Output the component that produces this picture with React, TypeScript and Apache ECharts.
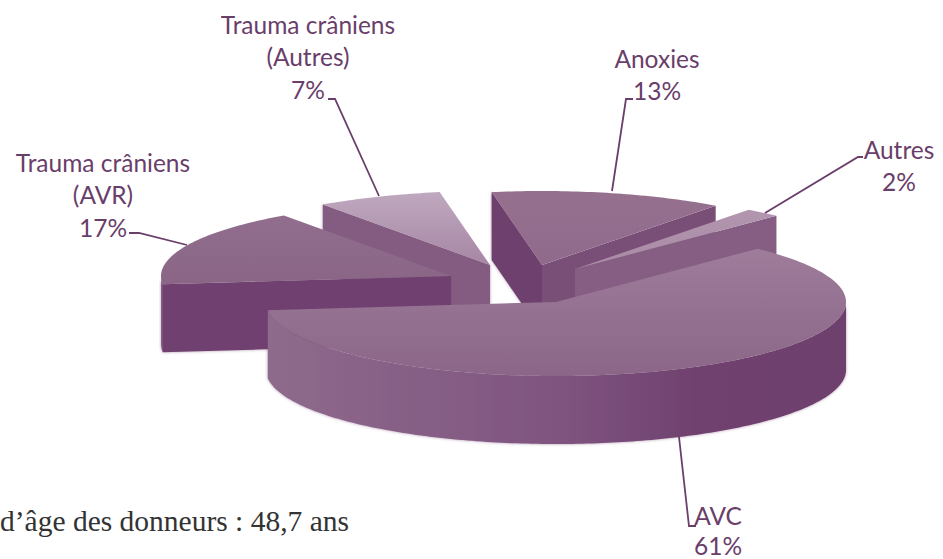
import React, { useEffect, useRef } from "react";
import * as echarts from "echarts";

const categories = ["AVC", "Trauma crâniens\n(AVR)", "Trauma crâniens\n(Autres)", "Anoxies", "Autres"];
const shares = [61, 17, 7, 13, 2];
const footnote = "d’âge des donneurs : 48,7 ans";

// Layout of the projected pie
const START_DEG = -46;
const RX = 290;
const RY = 74;
const DEPTH = 68;
const apexX = [556, 451, 490, 542, 575];
const apexY = [302, 276, 265, 265, 269];
const paintOrder = [5, 2, 1, 3, 4];

// Styles per slice
const topFrom = ["#9E7C9A", "#916E8E", "#BFA9BF", "#96718F", "#B295AF"];
const topTo = ["#8B6688", "#8A6586", "#A686A4", "#8F6A8B", "#A98AA6"];
const startWall = ["#7A4F78", "#70416F", "#855C81", "#6E406D", "#865E83"];
const endWall = ["#7A4F78", "#7A4F78", "#855C81", "#7A4F77", "#865E83"];

const ink = "#6A3E6A";
const labelFont = "Lato";
const labelSize = 24.5;
const labelLine = [30, 32.5, 32.5, 32.5, 32.5];
const labelX = [718, 103, 308, 657, 899];
const labelCentre = [515, 162, 24, 58, 149];
const leaders = [
  [[679, 437], [689, 526], [696, 526]],
  [[129, 233], [139, 233], [187, 245]],
  [[328, 99], [335, 99], [379, 196]],
  [[612, 191], [626, 99], [633, 99]],
  [[765, 213], [858, 157], [863, 157]],
];

const rad = (d: number) => (d * Math.PI) / 180;

function renderSlice(_params: any, api: any) {
  const i = api.value(0);
  const before = shares.slice(0, i).reduce((a, b) => a + b, 0);
  const total = shares.reduce((a, b) => a + b, 0);
  const t1 = START_DEG + (before / total) * 360;
  const t2 = t1 + (api.value(1) / total) * 360;
  const cx = apexX[i];
  const cy = apexY[i];
  const at = (t: number, dz = 0) => [cx + RX * Math.cos(rad(t)), cy + RY * Math.sin(rad(t)) + dz];
  const arc = (a: number, b: number, dz = 0) => {
    const pts: number[][] = [];
    const n = Math.max(2, Math.ceil(Math.abs(b - a)));
    for (let k = 0; k <= n; k++) pts.push(at(a + ((b - a) * k) / n, dz));
    return pts;
  };
  const z = paintOrder[i];
  const children: any[] = [];
  const fuzz = { shadowBlur: 3, shadowColor: "rgba(110,64,110,0.55)" };

  // radial walls, only those turned towards the viewer
  if (Math.cos(rad(t1)) < 0) {
    const p = at(t1);
    children.push({
      type: "polygon",
      z2: z * 10,
      shape: { points: [[cx, cy], p, [p[0], p[1] + DEPTH], [cx, cy + DEPTH]] },
      style: { fill: startWall[i], ...fuzz },
    });
  }
  if (Math.cos(rad(t2)) > 0) {
    const p = at(t2);
    children.push({
      type: "polygon",
      z2: z * 10,
      shape: { points: [[cx, cy], p, [p[0], p[1] + DEPTH], [cx, cy + DEPTH]] },
      style: { fill: endWall[i] },
    });
  }

  // outer rim, on the front half of the ellipse
  const rimA = Math.max(t1, 0);
  const rimB = Math.min(t2, 180);
  if (rimB > rimA) {
    const rim = [...arc(rimA, rimB), ...arc(rimB, rimA, DEPTH)];
    children.push({
      type: "polygon",
      z2: z * 10 + 1,
      shape: { points: rim },
      style: {
        fill: new echarts.graphic.LinearGradient(0, 0, 1, 0, [
          { offset: 0, color: "#8E6A8C" },
          { offset: 0.5, color: "#7F5580" },
          { offset: 0.75, color: "#6F406E" },
          { offset: 1, color: "#6E3F6D" },
        ]),
        ...fuzz,
      },
    });
  }

  // top face
  children.push({
    type: "polygon",
    z2: z * 10 + 2,
    shape: { points: [[cx, cy], ...arc(t1, t2)] },
    style: {
      fill: new echarts.graphic.LinearGradient(0, 0, 0, 1, [
        { offset: 0, color: topFrom[i] },
        { offset: 1, color: topTo[i] },
      ]),
    },
  });
  return { type: "group", children };
}

export default function App() {
  const ref = useRef<HTMLDivElement>(null);
  useEffect(() => {
    const chart = echarts.init(ref.current!, null, { renderer: "svg" });
    const labelGraphics = categories.flatMap((c, i) =>
      [...c.split("\n"), `${shares[i]}%`].map((line, k) => ({
        type: "text",
        x: labelX[i],
        y: labelCentre[i] + k * labelLine[i],
        z: 5,
        style: {
          text: line,
          fill: ink,
          font: `${labelSize}px ${labelFont}`,
          align: "center",
          verticalAlign: "middle",
        },
      }))
    );
    const leaderGraphics = leaders.map((points) => ({
      type: "polyline",
      z: 5,
      shape: { points },
      style: { stroke: ink, lineWidth: 1.8, fill: "none" },
    }));
    chart.setOption({
      animation: false,
      backgroundColor: "#ffffff",
      series: [
        {
          type: "custom",
          coordinateSystem: "none",
          silent: true,
          clip: false,
          renderItem: renderSlice,
          data: shares.map((v, i) => [i, v]),
        },
      ],
      graphic: [
        ...labelGraphics,
        ...leaderGraphics,
        {
          type: "text",
          x: 0,
          y: 521,
          z: 5,
          style: {
            text: footnote,
            fill: "#333333",
            font: "29.5px 'Liberation Serif'",
            verticalAlign: "middle",
          },
        },
      ],
    });
    return () => chart.dispose();
  }, []);
  return <div ref={ref} style={{ position: "fixed", left: 0, top: 0, width: 943, height: 559 }} />;
}
